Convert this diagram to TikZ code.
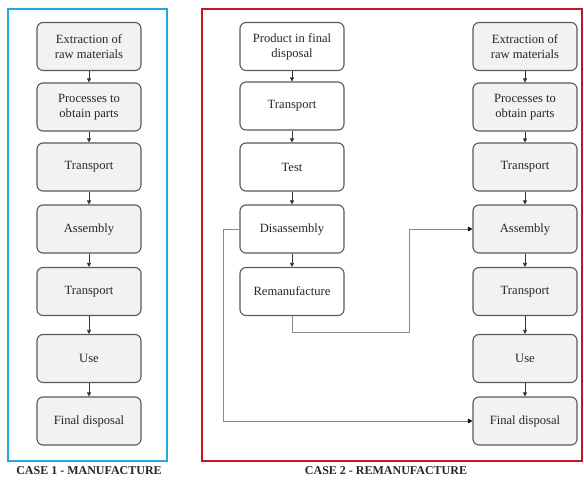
\documentclass[tikz,border=0pt]{standalone}
\usepackage{fontspec}
\setmainfont{Liberation Serif}
\usetikzlibrary{arrows.meta}
\definecolor{boxfill}{HTML}{F2F2F2}
\definecolor{boxline}{HTML}{595959}
\definecolor{frameblue}{HTML}{1EAAE2}
\definecolor{framered}{HTML}{C8161D}
\definecolor{connline}{HTML}{8A8A8A}
\tikzset{
  procbox/.style={draw=boxline, line width=1.1pt, rounded corners=6pt,
    minimum width=104pt, minimum height=48pt, align=center,
    font=\fontsize{12.6}{15}\selectfont, text=black!85, inner sep=2pt},
  graybox/.style={procbox, fill=boxfill},
  whitebox/.style={procbox, fill=white},
  arr/.style={draw=black!80, line width=0.6pt, -{Triangle[length=4pt,width=4pt]}},
  conn/.style={draw=connline, line width=0.7pt, -{Triangle[length=4.5pt,width=4.5pt,color=black]}},
  caselabel/.style={font=\bfseries\fontsize{12}{14}\selectfont, text=black!85},
}
\begin{document}
\begin{tikzpicture}[x=1pt,y=-1pt]
\useasboundingbox (0,0) rectangle (584,480);
% frames
\draw[frameblue, line width=2pt] (8,9) rectangle (167,461);
\draw[framered, line width=2pt] (202,9) rectangle (582,461);
% left column
\node[graybox] (l1) at (89,46.5) {Extraction of\\raw materials};
\node[graybox] (l2) at (89,107) {Processes to\\obtain parts};
\node[graybox] (l3) at (89,167) {Transport};
\node[graybox] (l4) at (89,229) {Assembly};
\node[graybox] (l5) at (89,291.5) {Transport};
\node[graybox] (l6) at (89,358.5) {Use};
\node[graybox] (l7) at (89,421) {Final disposal};
\draw[arr] (l1) -- (l2);
\draw[arr] (l2) -- (l3);
\draw[arr] (l3) -- (l4);
\draw[arr] (l4) -- (l5);
\draw[arr] (l5) -- (l6);
\draw[arr] (l6) -- (l7);
% middle column
\node[whitebox] (m1) at (292,46.5) {Product in final\\disposal};
\node[whitebox] (m2) at (292,106) {Transport};
\node[whitebox] (m3) at (292,167) {Test};
\node[whitebox] (m4) at (292,229) {Disassembly};
\node[whitebox] (m5) at (292,291.5) {Remanufacture};
\draw[arr] (m1) -- (m2);
\draw[arr] (m2) -- (m3);
\draw[arr] (m3) -- (m4);
\draw[arr] (m4) -- (m5);
% right column
\node[graybox] (r1) at (525,46.5) {Extraction of\\raw materials};
\node[graybox] (r2) at (525,107) {Processes to\\obtain parts};
\node[graybox] (r3) at (525,167) {Transport};
\node[graybox] (r4) at (525,229) {Assembly};
\node[graybox] (r5) at (525,291.5) {Transport};
\node[graybox] (r6) at (525,358.5) {Use};
\node[graybox] (r7) at (525,421) {Final disposal};
\draw[arr] (r1) -- (r2);
\draw[arr] (r2) -- (r3);
\draw[arr] (r3) -- (r4);
\draw[arr] (r4) -- (r5);
\draw[arr] (r5) -- (r6);
\draw[arr] (r6) -- (r7);
% cross connectors
\coordinate (dl) at (223,229);
\coordinate (rj) at (409,332);
\draw[conn] (m4.west) -- (dl) |- (r7.west);
\draw[conn] (m5.south) |- (rj) |- (r4.west);
% labels
\node[caselabel] (c1) at (89,471) {CASE 1 - MANUFACTURE};
\node[caselabel] (c2) at (386,471) {CASE 2 - REMANUFACTURE};
\end{tikzpicture}
\end{document}
